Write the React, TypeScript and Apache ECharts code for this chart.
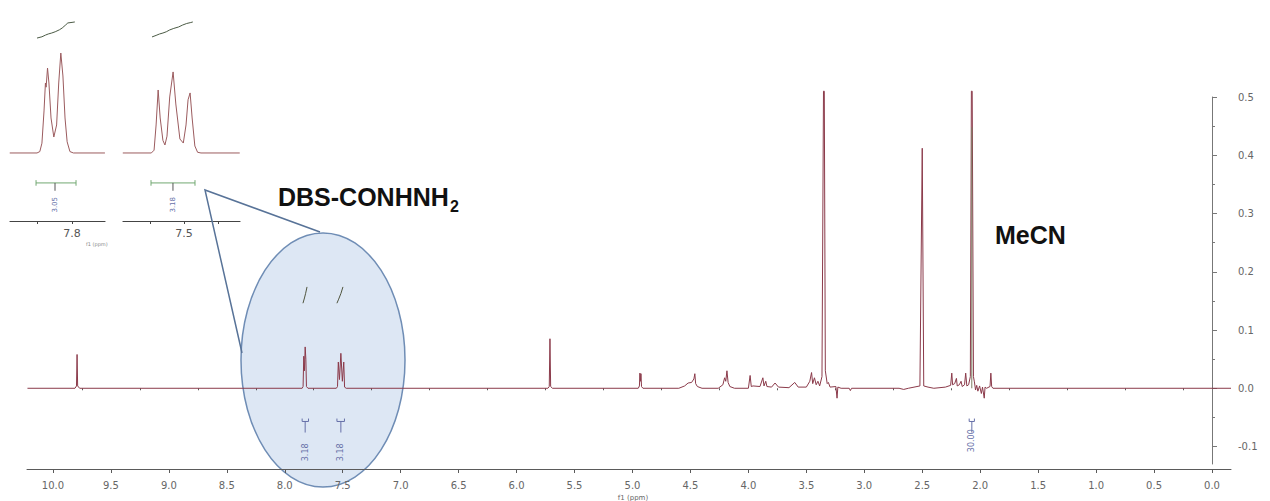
import React, { useEffect, useRef } from 'react';
import * as echarts from 'echarts';

// ---------- tick values ----------
const X_TICKS = [0, 0.5, 1, 1.5, 2, 2.5, 3, 3.5, 4, 4.5, 5, 5.5, 6, 6.5, 7, 7.5, 8, 8.5, 9, 9.5, 10];
const X_MINOR = [0.25, 0.75, 1.25, 1.75, 2.25, 2.75, 3.25, 3.75, 4.25, 4.75, 5.25, 5.75, 6.25, 6.75, 7.25, 7.75, 8.25, 8.75, 9.25, 9.75];
const Y_TICKS = [-0.1, 0, 0.1, 0.2, 0.3, 0.4, 0.5];
const Y_MINOR = [-0.05, 0.05, 0.15, 0.25, 0.35, 0.45];
const INSET_L_TICKS = [7.8, 7.85];
const INSET_L_LABELS = [7.8];
const INSET_R_TICKS = [7.45, 7.5, 7.55];
const INSET_R_LABELS = [7.5];

// ---------- main spectrum (ppm, intensity) ----------
const spectrum: [number, number][] = [
  [10.22, 0], [9.81, 0], [9.797, 0.004], [9.792, 0.058], [9.787, 0.004], [9.77, 0],
  [7.85, 0], [7.842, 0.003], [7.836, 0.055], [7.83, 0.03], [7.824, 0.071], [7.818, 0.05], [7.813, 0.003], [7.8, 0],
  [7.555, 0], [7.545, 0.003], [7.538, 0.045], [7.528, 0.015], [7.516, 0.06], [7.503, 0.012], [7.491, 0.045], [7.484, 0.002], [7.47, 0],
  [5.73, 0], [5.718, 0.003], [5.712, 0.085], [5.706, 0.003], [5.69, 0],
  [4.95, 0], [4.94, 0.004], [4.936, 0.026], [4.931, 0.012], [4.927, 0.025], [4.922, 0.003], [4.91, 0],
  [4.6, 0], [4.55, 0.004], [4.52, 0.009], [4.49, 0.01], [4.47, 0.016], [4.462, 0.025], [4.455, 0.008], [4.44, 0.003], [4.4, 0],
  [4.26, 0], [4.22, 0.006], [4.205, 0.018], [4.195, 0.012], [4.185, 0.03], [4.175, 0.01], [4.16, 0.003], [4.12, 0],
  [4.0, 0], [3.985, 0.022], [3.975, 0.003], [3.96, 0.004],
  [3.9, 0.003], [3.875, 0.018], [3.865, 0.004], [3.85, 0.012], [3.84, 0.003],
  [3.8, 0.002], [3.77, 0.009], [3.74, 0.002],
  [3.65, 0.001], [3.6, 0.01], [3.57, 0.002],
  [3.5, 0.002], [3.47, 0.012], [3.455, 0.027], [3.445, 0.008], [3.43, 0.018], [3.415, 0.006], [3.4, 0.012], [3.385, 0.004],
  [3.365, 0.02], [3.352, 0.51], [3.345, 0.51], [3.336, 0.03], [3.32, 0.008], [3.31, 0.01], [3.295, 0.002],
  [3.245, 0.003], [3.235, -0.017], [3.228, 0.002], [3.2, 0], [3.13, 0], [3.12, -0.004], [3.11, 0],
  [2.7, 0], [2.66, -0.002], [2.62, 0],
  [2.52, 0.004], [2.5, 0.412], [2.495, 0.412], [2.487, 0.004], [2.45, 0.002], [2.4, 0],
  [2.3, 0.002], [2.255, 0.005], [2.245, 0.026], [2.238, 0.006], [2.22, 0.008], [2.205, 0.017], [2.198, 0.004],
  [2.18, 0.006], [2.165, 0.012], [2.155, 0.003], [2.135, 0.006], [2.125, 0.026], [2.115, 0.004], [2.1, 0.006], [2.085, 0.02],
  [2.076, 0.51], [2.069, 0.51], [2.058, 0.02], [2.05, 0.011], [2.04, -0.003], [2.03, 0.005], [2.02, -0.005],
  [2.005, 0.004], [1.99, -0.009], [1.98, 0.002], [1.965, -0.017], [1.958, 0.002], [1.945, 0],
  [1.915, 0.003], [1.908, 0.026], [1.901, 0.003], [1.89, 0], [1.25, 0], [-0.164, 0],
];
const mecnOverlay: [number, number][] = [[2.0725, 0], [2.0725, 0.448]];

// integral traces drawn above the aromatic peaks
const mainIntegralTraces: [number, number][][] = [
  [[7.843, 0.146], [7.83, 0.155], [7.82, 0.163], [7.808, 0.174]],
  [[7.55, 0.146], [7.535, 0.153], [7.515, 0.163], [7.498, 0.174]],
];

// integration regions and values
const mainIntegrals = [
  { from: 7.85, to: 7.795, mid: 7.824, label: '3.18', labelY: -0.11 },
  { from: 7.55, to: 7.485, mid: 7.516, label: '3.18', labelY: -0.11 },
  { from: 2.095, to: 2.05, mid: 2.072, label: '30.00', labelY: -0.09 },
];

// ---------- insets (expanded aromatic multiplets) ----------
const insetLeftSpectrum: [number, number][] = [
  [7.889, 0], [7.85, 0], [7.846, 0.01], [7.843, 0.07], [7.84, 0.3], [7.838, 0.5], [7.837, 0.47], [7.835, 0.607],
  [7.833, 0.5], [7.83, 0.25], [7.826, 0.114], [7.822, 0.2], [7.819, 0.5], [7.816, 0.714], [7.813, 0.55],
  [7.81, 0.25], [7.807, 0.08], [7.803, 0.01], [7.798, 0], [7.753, 0],
];
const insetRightSpectrum: [number, number][] = [
  [7.59, 0], [7.548, 0], [7.544, 0.02], [7.541, 0.2], [7.538, 0.45], [7.535, 0.25], [7.531, 0.09], [7.528, 0.057],
  [7.525, 0.12], [7.521, 0.4], [7.516, 0.579], [7.512, 0.35], [7.506, 0.1], [7.501, 0.071], [7.497, 0.2],
  [7.494, 0.38], [7.491, 0.429], [7.488, 0.25], [7.484, 0.05], [7.48, 0.005], [7.475, 0], [7.418, 0],
];
const insetLeftIntegral: [number, number][] = [
  [7.85, 0.821], [7.843, 0.83], [7.838, 0.842], [7.834, 0.85], [7.829, 0.857], [7.824, 0.866],
  [7.818, 0.88], [7.814, 0.893], [7.809, 0.915], [7.806, 0.929], [7.8, 0.933], [7.796, 0.936],
];
const insetRightIntegral: [number, number][] = [
  [7.547, 0.829], [7.541, 0.84], [7.536, 0.85], [7.531, 0.857], [7.526, 0.866], [7.521, 0.879],
  [7.515, 0.89], [7.508, 0.9], [7.502, 0.914], [7.496, 0.925], [7.49, 0.932], [7.487, 0.936],
];
const insetIntegrals = [
  { grid: 1, from: 7.8514, to: 7.7943, mid: 7.8243, label: '3.05' },
  { grid: 2, from: 7.5485, to: 7.4838, mid: 7.5162, label: '3.18' },
];

const SPEC_COLOR = '#8b3a4a';
const INT_COLOR = '#6670a8';
const AXIS_COLOR = '#5a5a5a';
const LABEL_FONT = 'DejaVu Sans';

const labelSeries = (xi: number, data: any[], fontSize: number) => ({
  type: 'scatter', xAxisIndex: xi, yAxisIndex: xi, symbol: 'circle', symbolSize: 2,
  itemStyle: { color: 'rgba(255,255,255,0)' },
  data,
  label: {
    show: true, position: 'inside', rotate: 90, formatter: '{b}',
    fontSize, color: INT_COLOR, fontFamily: LABEL_FONT, opacity: 1,
  },
  labelLayout: { hideOverlap: false },
  z: 6,
});

export default function App() {
  const ref = useRef<HTMLDivElement>(null);

  useEffect(() => {
    if (!ref.current) return;
    const chart = echarts.init(ref.current, undefined, { renderer: 'svg' });

    const series: any[] = [];
    series.push({
      type: 'line', xAxisIndex: 0, yAxisIndex: 0, data: spectrum, showSymbol: false, clip: false,
      lineStyle: { color: SPEC_COLOR, width: 1 }, z: 4,
    });
    series.push({
      type: 'line', xAxisIndex: 0, yAxisIndex: 0, data: mecnOverlay, showSymbol: false, clip: false,
      lineStyle: { color: '#7d7d62', width: 1 }, z: 5,
    });
    mainIntegralTraces.forEach((t) => {
      series.push({
        type: 'line', xAxisIndex: 0, yAxisIndex: 0, data: t, showSymbol: false,
        lineStyle: { color: '#50553e', width: 1 }, z: 4,
      });
    });
    mainIntegrals.forEach((it) => {
      series.push({
        type: 'line', xAxisIndex: 0, yAxisIndex: 0, showSymbol: false, clip: false,
        data: [[it.from, -0.052], [it.from, -0.057], [it.to, -0.057], [it.to, -0.052]],
        lineStyle: { color: INT_COLOR, width: 1 }, z: 4,
      });
      series.push({
        type: 'line', xAxisIndex: 0, yAxisIndex: 0, showSymbol: false, clip: false,
        data: [[it.mid, -0.057], [it.mid, -0.076]],
        lineStyle: { color: INT_COLOR, width: 1 }, z: 4,
      });
    });
    series.push(labelSeries(0, mainIntegrals.map((it) => ({ value: [it.mid, it.labelY], name: it.label })), 8));

    // insets
    const insetData = [
      { grid: 1, spec: insetLeftSpectrum, integ: insetLeftIntegral },
      { grid: 2, spec: insetRightSpectrum, integ: insetRightIntegral },
    ];
    insetData.forEach((d) => {
      series.push({
        type: 'line', xAxisIndex: d.grid + 1, yAxisIndex: d.grid + 1, data: d.spec, showSymbol: false,
        lineStyle: { color: '#9b5b5e', width: 1 }, z: 4,
      });
      series.push({
        type: 'line', xAxisIndex: d.grid + 1, yAxisIndex: d.grid + 1, data: d.integ, showSymbol: false,
        lineStyle: { color: '#4a5a44', width: 1 }, z: 4,
      });
    });
    insetIntegrals.forEach((it) => {
      const xi = it.grid + 1;
      series.push({
        type: 'line', xAxisIndex: xi, yAxisIndex: xi, showSymbol: false,
        data: [[it.from, -0.194], [it.from, -0.234]],
        lineStyle: { color: '#72a872', width: 1 },
      });
      series.push({
        type: 'line', xAxisIndex: xi, yAxisIndex: xi, showSymbol: false,
        data: [[it.to, -0.194], [it.to, -0.234]],
        lineStyle: { color: '#72a872', width: 1 },
      });
      series.push({
        type: 'line', xAxisIndex: xi, yAxisIndex: xi, showSymbol: false,
        data: [[it.from, -0.214], [it.to, -0.214]],
        lineStyle: { color: '#72a872', width: 1 },
      });
      series.push({
        type: 'line', xAxisIndex: xi, yAxisIndex: xi, showSymbol: false,
        data: [[it.mid, -0.214], [it.mid, -0.27]],
        lineStyle: { color: '#555', width: 1 },
      });
      series.push(labelSeries(xi, [{ value: [it.mid, -0.37], name: it.label }], 7));
    });

    const insetX = (grid: number, min: number, max: number, ticks: number[], labels: number[]) => ({
      type: 'value', gridIndex: grid, inverse: true, min, max, position: 'bottom',
      axisLine: { show: true, onZero: false, lineStyle: { color: '#444', width: 1.2 } },
      axisTick: { show: true, customValues: ticks, length: 3, lineStyle: { color: '#444' } },
      axisLabel: {
        show: true, customValues: labels, formatter: (v: number) => v.toFixed(1),
        fontSize: 11, color: '#555', fontFamily: LABEL_FONT, margin: 7,
      },
      splitLine: { show: false },
    });
    const insetY = (grid: number) => ({
      type: 'value', gridIndex: grid, min: -0.486, max: 1, show: false, splitLine: { show: false },
    });

    const option: any = {
      animation: false,
      backgroundColor: '#ffffff',
      grid: [
        { left: 27, right: 39, top: 97, bottom: 37, outerBoundsMode: 'none', containLabel: false },
        { left: 10, width: 95, top: 13, bottom: 280, outerBoundsMode: 'none', containLabel: false },
        { left: 123, width: 117, top: 13, bottom: 280, outerBoundsMode: 'none', containLabel: false },
      ],
      xAxis: [
        {
          type: 'value', gridIndex: 0, inverse: true, min: -0.164, max: 10.224, splitNumber: 20,
          position: 'bottom', offset: 5,
          axisLine: { show: true, onZero: false, lineStyle: { color: AXIS_COLOR, width: 1 } },
          axisTick: { show: true, customValues: X_TICKS, length: 4, lineStyle: { color: AXIS_COLOR } },
          axisLabel: {
            show: true, customValues: X_TICKS, formatter: (v: number) => v.toFixed(1),
            fontSize: 10, color: '#666', fontFamily: LABEL_FONT, margin: 11,
          },
          splitLine: { show: false },
          name: 'f1 (ppm)', nameLocation: 'middle', nameGap: 20,
          nameTextStyle: { fontSize: 7, color: '#666', fontFamily: LABEL_FONT, padding: [0, 0, 0, 8] },
        },
        {
          type: 'value', gridIndex: 0, inverse: true, min: -0.164, max: 10.224, position: 'bottom', offset: 5,
          axisLine: { show: false },
          axisTick: { show: true, customValues: X_MINOR, length: 2, lineStyle: { color: AXIS_COLOR } },
          axisLabel: { show: false },
          splitLine: { show: false },
        },
        insetX(1, 7.7529, 7.8886, INSET_L_TICKS, INSET_L_LABELS),
        insetX(2, 7.4176, 7.5897, INSET_R_TICKS, INSET_R_LABELS),
      ],
      yAxis: [
        {
          type: 'value', gridIndex: 0, position: 'right', min: -0.13, max: 0.5, offset: 5, splitNumber: 6,
          axisLine: { show: true, lineStyle: { color: '#777', width: 1 } },
          axisTick: { show: true, customValues: Y_TICKS, length: 5, lineStyle: { color: '#777' } },
          axisLabel: {
            show: true, customValues: Y_TICKS, formatter: (v: number) => v.toFixed(1),
            fontSize: 10, color: '#666', fontFamily: LABEL_FONT, margin: 2,
          },
          splitLine: { show: false },
        },
        {
          type: 'value', gridIndex: 0, position: 'right', min: -0.13, max: 0.5, offset: 5,
          axisLine: { show: false },
          axisTick: { show: true, customValues: Y_MINOR, length: 3, lineStyle: { color: '#777' } },
          axisLabel: { show: false },
          splitLine: { show: false },
        },
        insetY(1),
        insetY(2),
      ],
      graphic: [
        {
          type: 'ellipse', z: 0,
          shape: { cx: 323, cy: 360, rx: 82, ry: 127 },
          style: { fill: 'rgba(188,208,234,0.5)', stroke: '#6f8db5', lineWidth: 1.5 },
        },
        {
          type: 'polyline', z: 1,
          shape: { points: [[320, 232], [205, 190], [242, 353]] },
          style: { fill: 'none', stroke: '#587398', lineWidth: 1.5 },
        },
        {
          type: 'text', z: 10, x: 278, y: 197,
          style: {
            text: 'DBS-CONHNH', fill: '#111', font: 'bold 25px "Liberation Sans"',
            verticalAlign: 'middle', align: 'left',
          },
        },
        {
          type: 'text', z: 10, x: 450, y: 206,
          style: {
            text: '2', fill: '#111', font: 'bold 16px "Liberation Sans"',
            verticalAlign: 'middle', align: 'left',
          },
        },
        {
          type: 'text', z: 10, x: 995, y: 235,
          style: {
            text: 'MeCN', fill: '#111', font: 'bold 25px "Liberation Sans"',
            verticalAlign: 'middle', align: 'left',
          },
        },
        {
          type: 'text', z: 10, x: 86, y: 244,
          style: {
            text: 'f1 (ppm)', fill: '#888', font: '5px "DejaVu Sans"',
            verticalAlign: 'middle', align: 'left',
          },
        },
      ],
      series,
    };

    chart.setOption(option);
    return () => {
      chart.dispose();
    };
  }, []);

  return (
    <div
      ref={ref}
      style={{ position: 'fixed', left: 0, top: 0, width: 1270, height: 501, background: '#fff' }}
    />
  );
}
